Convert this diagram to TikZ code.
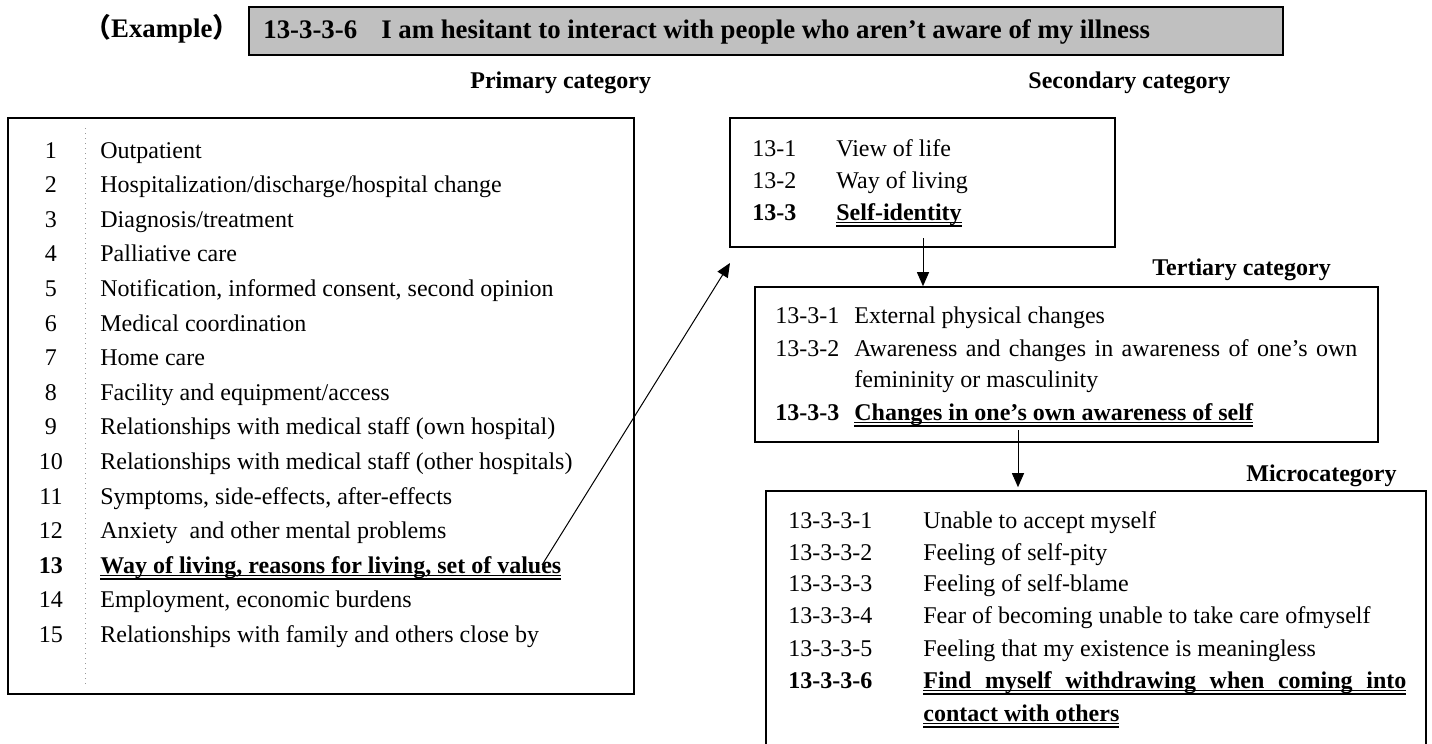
\documentclass[tikz,border=0pt]{standalone}
\usepackage{fontspec}
\setmainfont{Liberation Serif}
\newfontfamily\cjk{Noto Sans CJK JP}
\usetikzlibrary{arrows.meta}
\definecolor{headgray}{HTML}{C0C0C0}
\def\dul#1{\vtop{\hbox{\raisebox{0pt}[\height][0pt]{#1}}\kern1pt\hrule height0.5pt\kern0.8pt\hrule height1pt}}
\tikzset{
	catbox/.style={draw, line width=0.8pt, inner sep=0pt},
	headbox/.style={draw, fill=headgray, line width=0.8pt, inner sep=0pt},
	txt/.style={inner sep=0pt, anchor=base west, font=\fontsize{12}{14}\selectfont},
	btxt/.style={txt, font=\fontsize{12}{14}\selectfont\bfseries},
	htxt/.style={txt, font=\fontsize{13.4}{15}\selectfont\bfseries},
	num/.style={inner sep=0pt, anchor=base, font=\fontsize{12}{14}\selectfont},
	bnum/.style={num, font=\fontsize{12}{14}\selectfont\bfseries},
	arr/.style={-{Triangle[length=7pt,width=6pt]}, line width=0.5pt},
	sepline/.style={dotted, line width=0.5pt, black!40},
}

\begin{document}
\begin{tikzpicture}[x=0.5pt, y=-0.5pt]
		%%%%% START %%%%%
		\useasboundingbox (0,0) rectangle (1432,744);
		
		\node[headbox, minimum width=517pt, minimum height=24pt] (ex) at (766,31) {};
		\node[htxt] (exlab) at (84,38) {{\cjk （}Example{\cjk ）}};
		\node[htxt] (extxt) at (263,39) {13-3-3-6\hspace{0.9em}I am hesitant to interact with people who aren’t aware of my illness};
		
		\node[btxt] (prilab) at (470,88) {Primary category};
		\node[btxt] (seclab) at (1028,88) {Secondary category};
		\node[btxt] (terlab) at (1152,275) {Tertiary category};
		\node[btxt] (miclab) at (1246,481) {Microcategory};
		
		\node[catbox, minimum width=313pt, minimum height=288pt] (prim) at (321,406) {};
		\node[catbox, minimum width=192.5pt, minimum height=64.5pt] (sec) at (922.5,182.5) {};
		\node[catbox, minimum width=311.5pt, minimum height=77.5pt] (tert) at (1066.5,364.5) {};
		\node[catbox, minimum width=330pt, minimum height=136pt] (micro) at (1096,627) {};
		
		% primary list
		\draw[sepline] (85,128) -- (85,685);
		\foreach \n/\t in {1/Outpatient, 2/{Hospitalization/discharge/hospital change}, 3/{Diagnosis/treatment}, 4/Palliative care, 5/{Notification, informed consent, second opinion}, 6/Medical coordination, 7/Home care, 8/{Facility and equipment/access}, 9/{Relationships with medical staff (own hospital)}, 10/{Relationships with medical staff (other hospitals)}, 11/{Symptoms, side-effects, after-effects}, 12/{Anxiety\ \ and other mental problems}, 14/{Employment, economic burdens}, 15/{Relationships with family and others close by}}{
			\node[num] (pn\n) at (51,{158+(\n-1)*34.6}) {\n};
			\node[txt] (pt\n) at (100,{158+(\n-1)*34.6}) {\t};
		}
		\node[bnum] (pn13) at (51,573.2) {13};
		\node[btxt] (pt13) at (100,573.2) {\dul{Way of living, reasons for living, set of values}};
		
		% secondary list
		\node[txt] (sn1) at (752,156) {13-1};
		\node[txt] (st1) at (836,156) {View of life};
		\node[txt] (sn2) at (752,188) {13-2};
		\node[txt] (st2) at (836,188) {Way of living};
		\node[btxt] (sn3) at (752,220) {13-3};
		\node[btxt] (st3) at (836,220) {\dul{Self-identity}};
		
		% tertiary list
		\node[txt] (tn1) at (775,323) {13-3-1};
		\node[txt] (tt1) at (854,323) {External physical changes};
		\node[txt] (tn2) at (775,356) {13-3-2};
		\node[txt] (tt2) at (854,356) {\makebox[251.5pt][s]{Awareness and changes in awareness of one’s own}};
		\node[txt] (tt2b) at (854,387) {femininity or masculinity};
		\node[btxt] (tn3) at (775,420) {13-3-3};
		\node[btxt] (tt3) at (854,420) {\dul{Changes in one’s own awareness of self}};
		
		% microcategory list
		\foreach \n/\t/\y in {1/Unable to accept myself/528, 2/Feeling of self-pity/560, 3/Feeling of self-blame/591, 4/Fear of becoming unable to take care ofmyself/623, 5/Feeling that my existence is meaningless/656}{
			\node[txt] (mn\n) at (788,\y) {13-3-3-\n};
			\node[txt] (mt\n) at (923,\y) {\t};
		}
		\node[btxt] (mn6) at (788,688) {13-3-3-6};
		\node[btxt] (mt6) at (923,688) {\dul{\makebox[241.5pt][s]{Find myself withdrawing when coming into}}};
		\node[btxt] (mt6b) at (923,721) {\dul{contact with others}};
		
		% arrows
		\coordinate (d0) at (542,565);
		\coordinate (d1) at (730,263);
		\draw[arr] (d0) -- (d1);
		\coordinate (s1) at (923,238);
		\draw[arr] (s1) -- (s1 |- tert.north);
		\coordinate (s2) at (1018,430);
		\draw[arr, shorten >=1.5pt] (s2) -- (s2 |- micro.north);
		
		%%%%% END %%%%%
	\end{tikzpicture}
\end{document}
